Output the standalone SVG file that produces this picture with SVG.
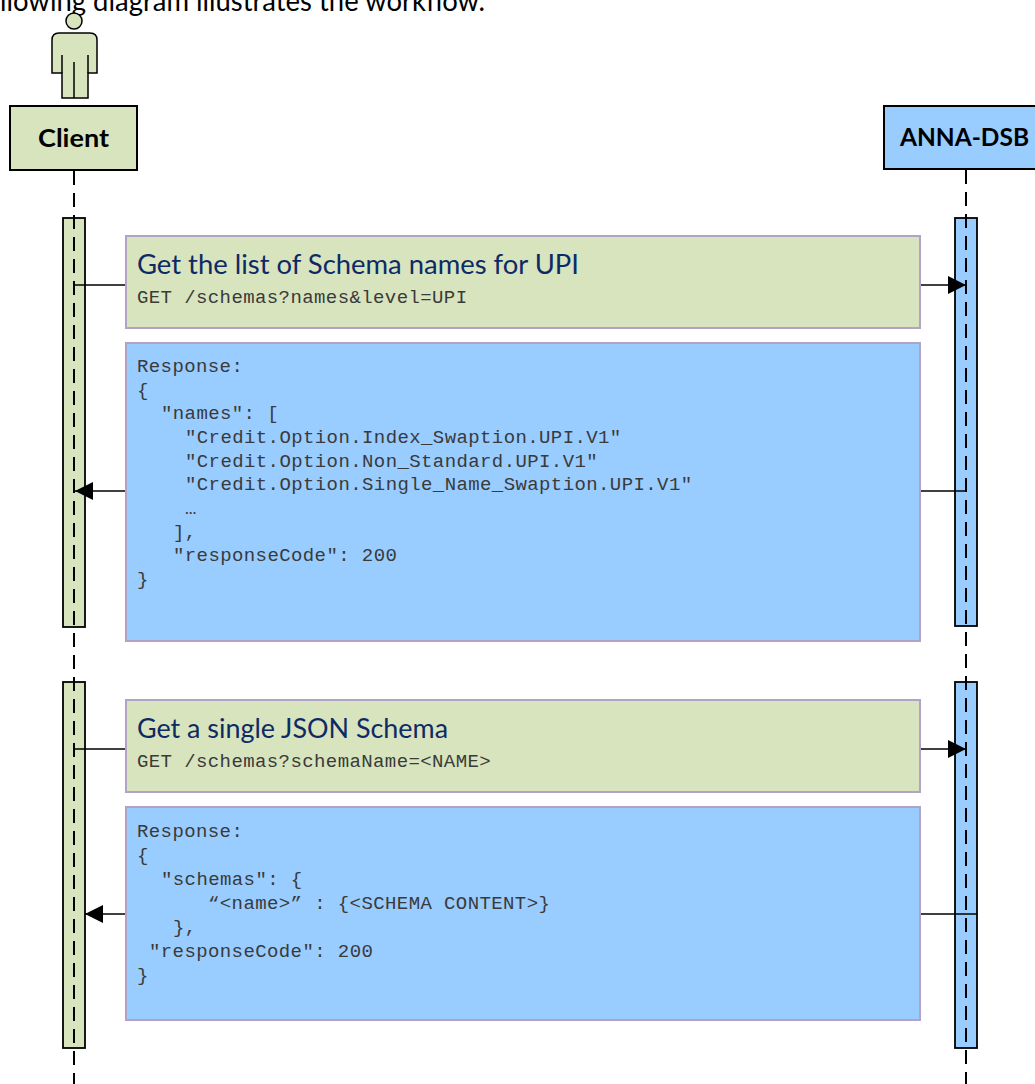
<svg xmlns="http://www.w3.org/2000/svg" width="1035" height="1084" viewBox="0 0 1035 1084">
<defs>
<style>
.actor{fill:#D7E4BD;stroke:#000;stroke-width:1.5}
.pbox{stroke:#000;stroke-width:2}
.green{fill:#D7E4BD}
.blue{fill:#99CCFF}
.life{stroke:#000;stroke-width:2;stroke-dasharray:14 8;fill:none}
.bar{stroke:#000;stroke-width:1.8}
.msg{stroke:#B3A2C7;stroke-width:2}
.conn{stroke:#000;stroke-width:1.6;fill:none}
.pname{font-family:Lato,"Liberation Sans",sans-serif;font-weight:bold;font-size:25px;fill:#000}
.head{font-family:Lato,"Liberation Sans",sans-serif;font-size:26px;fill:#0E2A66}
.mono{font-family:"Liberation Mono","Courier New",monospace;font-size:19px;letter-spacing:0.4px;fill:#3A3A3A;white-space:pre}
.intro{font-family:Lato,"Liberation Sans",sans-serif;font-size:29px;fill:#000}
</style>
<marker id="ah" markerUnits="userSpaceOnUse" markerWidth="18" markerHeight="18" refX="18" refY="9" orient="auto">
<path d="M0,0 L18,9 L0,18 Z" fill="#000"/>
</marker>
</defs>
<rect width="1035" height="1084" fill="#fff"/>

<text class="intro" x="0" y="11" textLength="485" lengthAdjust="spacingAndGlyphs">llowing diagram illustrates the workflow.</text>

<g id="bars">
<rect class="bar green" x="63" y="218" width="22" height="409"/>
<rect class="bar green" x="63" y="682" width="22" height="366"/>
<rect class="bar blue" x="955" y="218" width="22" height="408"/>
<rect class="bar blue" x="955" y="682" width="22" height="366"/>
</g>

<g id="client">
<circle class="actor" cx="74" cy="21" r="8"/>
<path class="actor" d="M62,98 L62,73 L52,73 L52,40 Q52,33 59,33 L90,33 Q97,33 97,40 L97,73 L88,73 L88,98 Z"/>
<path d="M62,55 L62,73 M88,55 L88,73 M74,62 L74,98" stroke="#000" stroke-width="1.5" fill="none"/>
<rect class="pbox green" x="10" y="106" width="127" height="64"/>
<text class="pname" x="38" y="147" textLength="71" lengthAdjust="spacingAndGlyphs">Client</text>
<line class="life" x1="74" y1="171" x2="74" y2="1084"/>
</g>

<g id="anna-dsb">
<rect class="pbox blue" x="884" y="106" width="170" height="63"/>
<text class="pname" x="900" y="146" textLength="129" lengthAdjust="spacingAndGlyphs">ANNA-DSB</text>
<line class="life" x1="966" y1="170" x2="966" y2="1084"/>
</g>

<g id="connectors">
<line class="conn" x1="74" y1="285" x2="966" y2="285" marker-end="url(#ah)"/>
<line class="conn" x1="966" y1="491" x2="75" y2="491" marker-end="url(#ah)"/>
<line class="conn" x1="74" y1="749" x2="966" y2="749" marker-end="url(#ah)"/>
<line class="conn" x1="977" y1="914" x2="85" y2="914" marker-end="url(#ah)"/>
</g>

<g id="req-names">
<rect class="msg green" x="126" y="236" width="794" height="92"/>
<text class="head" x="137" y="274" textLength="442" lengthAdjust="spacingAndGlyphs">Get the list of Schema names for UPI</text>
<text class="mono" x="137" y="303">GET /schemas?names&amp;level=UPI</text>
</g>

<g id="resp-names">
<rect class="msg blue" x="126" y="343" width="794" height="298"/>
<text class="mono" x="137" y="372">Response:</text>
<text class="mono" x="137" y="395.5">{</text>
<text class="mono" x="161" y="419">"names": [</text>
<text class="mono" x="185" y="443">"Credit.Option.Index_Swaption.UPI.V1"</text>
<text class="mono" x="185" y="466.5">"Credit.Option.Non_Standard.UPI.V1"</text>
<text class="mono" x="185" y="490">"Credit.Option.Single_Name_Swaption.UPI.V1"</text>
<text class="mono" x="185" y="514">…</text>
<text class="mono" x="173" y="537.5">],</text>
<text class="mono" x="173" y="561">"responseCode": 200</text>
<text class="mono" x="137" y="585">}</text>
</g>

<g id="req-schema">
<rect class="msg green" x="126" y="700" width="794" height="92"/>
<text class="head" x="137" y="738" textLength="311" lengthAdjust="spacingAndGlyphs">Get a single JSON Schema</text>
<text class="mono" x="137" y="767">GET /schemas?schemaName=&lt;NAME&gt;</text>
</g>

<g id="resp-schema">
<rect class="msg blue" x="126" y="807" width="794" height="213"/>
<text class="mono" x="137" y="837">Response:</text>
<text class="mono" x="137" y="861">{</text>
<text class="mono" x="161" y="885">"schemas": {</text>
<text class="mono" x="208" y="909">“&lt;name&gt;” : {&lt;SCHEMA CONTENT&gt;}</text>
<text class="mono" x="173" y="933">},</text>
<text class="mono" x="149" y="957">"responseCode": 200</text>
<text class="mono" x="137" y="981">}</text>
</g>
</svg>
